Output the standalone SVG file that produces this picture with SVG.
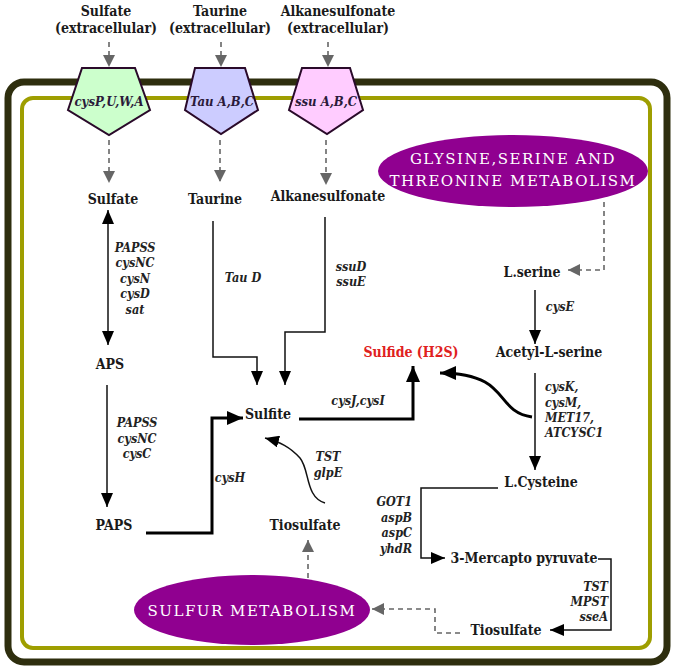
<svg xmlns="http://www.w3.org/2000/svg" width="675" height="671" viewBox="0 0 675 671">
<style>
.t{font-family:"DejaVu Serif Condensed","DejaVu Serif",serif;font-weight:bold;font-size:14px;fill:#1a1a1a;text-anchor:middle}
.g{font-family:"DejaVu Serif Condensed","DejaVu Serif",serif;font-weight:bold;font-style:italic;font-size:12.5px;fill:#222;text-anchor:middle}
.p{font-family:"DejaVu Serif Condensed","DejaVu Serif",serif;font-weight:bold;font-style:italic;font-size:13px;fill:#2a1a3a;text-anchor:middle}
.e{font-family:"DejaVu Serif","Liberation Serif",serif;font-size:15px;fill:#fff;text-anchor:middle;letter-spacing:1.5px}
.ln{fill:none;stroke:#111;stroke-width:1.5}
.thk{fill:none;stroke:#000;stroke-width:3}
.d{fill:none;stroke:#666;stroke-width:1.6;stroke-dasharray:5,4}
.pent{stroke:#2a0a2a;stroke-width:2}
.ell{fill:#900090}
</style>
<defs>
<marker id="ah" viewBox="0 0 14 12" refX="14" refY="6" markerWidth="14" markerHeight="12" markerUnits="userSpaceOnUse" orient="auto-start-reverse"><path d="M0,0 L14,6 L0,12 z" fill="#000"/></marker>
<marker id="ahb" viewBox="0 0 16 14" refX="16" refY="7" markerWidth="16" markerHeight="14" markerUnits="userSpaceOnUse" orient="auto"><path d="M0,0 L16,7 L0,14 z" fill="#000"/></marker>
<marker id="ag" viewBox="0 0 12 12" refX="12" refY="6" markerWidth="12" markerHeight="12" markerUnits="userSpaceOnUse" orient="auto"><path d="M0,0 L12,6 L0,12 z" fill="#666"/></marker>
</defs>

<g id="frame">
<rect x="8" y="82" width="659" height="580" rx="16" fill="none" stroke="#2e2e0e" stroke-width="7"/>
<rect x="22" y="98" width="628" height="550" rx="11" fill="none" stroke="#9e9e00" stroke-width="4"/>
</g>

<g id="connectors">
<path class="d" d="M109,42 V67" marker-end="url(#ag)"/>
<path class="d" d="M221,42 V67" marker-end="url(#ag)"/>
<path class="d" d="M328,42 V67" marker-end="url(#ag)"/>
<path class="d" d="M109,140 V183" marker-end="url(#ag)"/>
<path class="d" d="M220,140 V182" marker-end="url(#ag)"/>
<path class="d" d="M326,140 V185" marker-end="url(#ag)"/>
<path class="ln" d="M108,210 V345" marker-start="url(#ah)" marker-end="url(#ah)"/>
<path class="ln" d="M107,385 V507" marker-end="url(#ah)"/>
<path class="ln" d="M213,221 V357 H257 V385" marker-end="url(#ah)"/>
<path class="ln" d="M325,217 V332 H285 V385" marker-end="url(#ah)"/>
<path class="thk" d="M146,533 H212 V418 H243" marker-end="url(#ahb)"/>
<path class="ln" d="M325,503 C305,497 310,470 300,458 C290,447 280,442 265,438" marker-end="url(#ah)"/>
<path class="thk" d="M299,419 H413 V366" marker-end="url(#ahb)"/>
<path class="thk" d="M532,417 C505,413 505,393 485,382 C472,375 458,373 440,373" marker-end="url(#ahb)"/>
<path class="d" d="M604,202 V270 H568" marker-end="url(#ag)"/>
<path class="ln" d="M535,290 V344" marker-end="url(#ah)"/>
<path class="ln" d="M535,373 V470" marker-end="url(#ah)"/>
<path class="ln" d="M498,488 H421 V558 H445" marker-end="url(#ah)"/>
<path class="ln" d="M598,559 H611 V630 H550" marker-end="url(#ah)"/>
<path class="d" d="M460,633 H435 V609 H372" marker-end="url(#ag)"/>
<path class="d" d="M308,578 V540" marker-end="url(#ag)"/>
</g>

<g id="ext-labels">
<text class="t" x="106" y="16">Sulfate</text>
<text class="t" x="106" y="33">(extracellular)</text>
<text class="t" x="220" y="16">Taurine</text>
<text class="t" x="220" y="33">(extracellular)</text>
<text class="t" x="338" y="16">Alkanesulfonate</text>
<text class="t" x="338" y="33">(extracellular)</text>
</g>

<g id="cysPUWA">
<polygon class="pent" points="82,68 135,68 150,110 109,135 68,110" fill="#ccffcc"/>
<text class="p" x="109" y="106">cysP,U,W,A</text>
</g>
<g id="tauABC">
<polygon class="pent" points="195,68 245,68 258,110 221,134 185,110" fill="#ccccff"/>
<text class="p" x="222" y="106">Tau A,B,C</text>
</g>
<g id="ssuABC">
<polygon class="pent" points="302,68 350,68 363,110 327,134 289,110" fill="#ffccff"/>
<text class="p" x="326" y="106">ssu A,B,C</text>
</g>

<g id="glysine">
<ellipse class="ell" cx="513" cy="171" rx="135" ry="36"/>
<text class="e" x="513" y="164">GLYSINE,SERINE AND</text>
<text class="e" x="513" y="186">THREONINE METABOLISM</text>
</g>
<g id="sulfurmet">
<ellipse class="ell" cx="252" cy="610" rx="118" ry="35"/>
<text class="e" x="252" y="616">SULFUR METABOLISM</text>
</g>

<g id="sulfate"><text class="t" x="113" y="204">Sulfate</text></g>
<g id="taurine"><text class="t" x="215" y="204">Taurine</text></g>
<g id="alkanesulfonate"><text class="t" x="328" y="201">Alkanesulfonate</text></g>
<g id="aps"><text class="t" x="110" y="369">APS</text></g>
<g id="paps"><text class="t" x="114" y="530">PAPS</text></g>
<g id="sulfite"><text class="t" x="268" y="419">Sulfite</text></g>
<g id="tiosulfate1"><text class="t" x="305" y="530">Tiosulfate</text></g>
<g id="sulfide"><text class="t" x="411" y="357" style="fill:#e02020">Sulfide (H2S)</text></g>
<g id="lserine"><text class="t" x="532" y="277">L.serine</text></g>
<g id="acetyl"><text class="t" x="549" y="357">Acetyl-L-serine</text></g>
<g id="lcysteine"><text class="t" x="541" y="487">L.Cysteine</text></g>
<g id="mercapto"><text class="t" x="524" y="563">3-Mercapto pyruvate</text></g>
<g id="tiosulfate2"><text class="t" x="506" y="635">Tiosulfate</text></g>

<g id="enzymes">
<text class="g" x="135" y="252">PAPSS</text>
<text class="g" x="135" y="267">cysNC</text>
<text class="g" x="135" y="283">cysN</text>
<text class="g" x="135" y="298">cysD</text>
<text class="g" x="135" y="314">sat</text>
<text class="g" x="137" y="427">PAPSS</text>
<text class="g" x="137" y="443">cysNC</text>
<text class="g" x="137" y="458">cysC</text>
<text class="g" x="243" y="282">Tau D</text>
<text class="g" x="351" y="271">ssuD</text>
<text class="g" x="351" y="286">ssuE</text>
<text class="g" x="230" y="482">cysH</text>
<text class="g" x="328" y="461">TST</text>
<text class="g" x="328" y="477">glpE</text>
<text class="g" x="358" y="405">cysJ,cysI</text>
<text class="g" x="560" y="311">cysE</text>
<text class="g" x="545" y="391" style="text-anchor:start">cysK,</text>
<text class="g" x="545" y="407" style="text-anchor:start">cysM,</text>
<text class="g" x="545" y="422" style="text-anchor:start">MET17,</text>
<text class="g" x="545" y="437" style="text-anchor:start">ATCYSC1</text>
<text class="g" x="412" y="506" style="text-anchor:end">GOT1</text>
<text class="g" x="412" y="522" style="text-anchor:end">aspB</text>
<text class="g" x="412" y="537" style="text-anchor:end">aspC</text>
<text class="g" x="412" y="553" style="text-anchor:end">yhdR</text>
<text class="g" x="608" y="591" style="text-anchor:end">TST</text>
<text class="g" x="608" y="606" style="text-anchor:end">MPST</text>
<text class="g" x="608" y="621" style="text-anchor:end">sseA</text>
</g>
</svg>
